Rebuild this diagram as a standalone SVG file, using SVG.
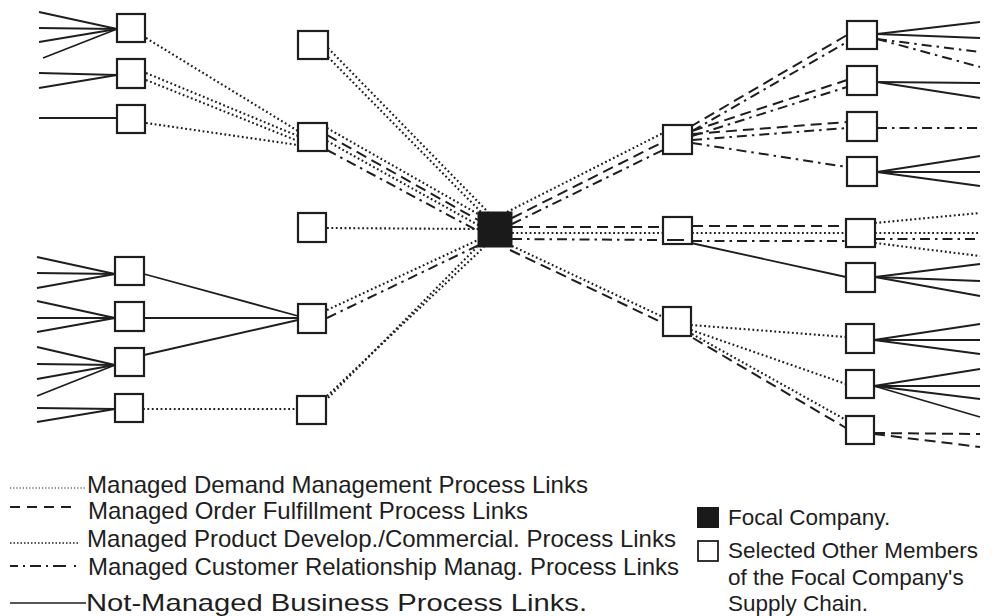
<svg xmlns="http://www.w3.org/2000/svg" width="1001" height="616" viewBox="0 0 1001 616">
<style>
.bg{fill:#fff}
.box{fill:#fff;stroke:#1e1e1e;stroke-width:2.2}
.focal{fill:#1a1a1a;stroke:#1a1a1a;stroke-width:1}
.c line{stroke:#1e1e1e;fill:none;stroke-width:1.8}
.c .dot{stroke-width:2.1;stroke-dasharray:1.8 2.6}
.c .dash{stroke-width:2;stroke-dasharray:11 6}
.c .dd{stroke-width:2;stroke-dasharray:10 5 2.5 5}
text{font-family:"Liberation Sans",Arial,sans-serif;fill:#1e1e1e}
.lg{font-size:24px}
.rl{font-size:22.5px}
</style>
<defs>
<marker id="ah" viewBox="0 0 10 10" refX="1" refY="5" markerWidth="5" markerHeight="5" orient="auto-start-reverse">
<path d="M0,0 L10,5 L0,10 z" fill="#1e1e1e"/>
</marker>
</defs>
<rect class="bg" x="0" y="0" width="1001" height="616"/>

<g id="connectors" class="c">
<!-- not-managed solid, left -->
<line x1="39" y1="12" x2="117" y2="29"/>
<line x1="39" y1="28" x2="117" y2="29"/>
<line x1="39" y1="42" x2="117" y2="29"/>
<line x1="43" y1="58" x2="117" y2="29"/>
<line x1="39" y1="73" x2="117" y2="75"/>
<line x1="39" y1="88" x2="117" y2="75"/>
<line x1="39" y1="118" x2="117" y2="118"/>
<line x1="37" y1="257" x2="115" y2="274"/>
<line x1="37" y1="273" x2="115" y2="274"/>
<line x1="37" y1="288" x2="115" y2="274"/>
<line x1="37" y1="301" x2="115" y2="318"/>
<line x1="37" y1="318" x2="115" y2="318"/>
<line x1="37" y1="332" x2="115" y2="318"/>
<line x1="37" y1="347" x2="115" y2="365"/>
<line x1="37" y1="364" x2="115" y2="365"/>
<line x1="37" y1="379" x2="115" y2="365"/>
<line x1="37" y1="396" x2="115" y2="365"/>
<line x1="37" y1="408" x2="115" y2="409"/>
<line x1="37" y1="422" x2="115" y2="409"/>
<line x1="144" y1="274" x2="298" y2="316"/>
<line x1="144" y1="318" x2="298" y2="318"/>
<line x1="144" y1="355" x2="298" y2="320"/>
<!-- not-managed solid, right -->
<line x1="691" y1="243" x2="846" y2="277"/>
<line x1="877" y1="34" x2="980" y2="22"/>
<line x1="877" y1="34" x2="980" y2="38"/>
<line x1="877" y1="82" x2="980" y2="83"/>
<line x1="877" y1="82" x2="980" y2="98"/>
<line x1="877" y1="172" x2="980" y2="156"/>
<line x1="877" y1="172" x2="980" y2="172"/>
<line x1="877" y1="172" x2="980" y2="186"/>
<line x1="875" y1="277" x2="980" y2="264"/>
<line x1="875" y1="277" x2="980" y2="281"/>
<line x1="875" y1="277" x2="980" y2="296"/>
<line x1="874" y1="340" x2="980" y2="324"/>
<line x1="874" y1="340" x2="980" y2="340"/>
<line x1="874" y1="340" x2="980" y2="354"/>
<line x1="874" y1="386" x2="980" y2="369"/>
<line x1="874" y1="386" x2="980" y2="386"/>
<line x1="874" y1="386" x2="980" y2="399"/>
<line x1="874" y1="386" x2="980" y2="417"/>

<!-- dotted, left -->
<line class="dot" x1="146" y1="38" x2="298" y2="131"/>
<line class="dot" x1="146" y1="73" x2="298" y2="136"/>
<line class="dot" x1="146" y1="80" x2="298" y2="141"/>
<line class="dot" x1="146" y1="123" x2="298" y2="145"/>
<line class="dot" x1="143" y1="409" x2="297" y2="409"/>
<!-- to focal -->
<line class="dot" x1="328" y1="48" x2="488" y2="212"/>
<line class="dot" x1="328" y1="57" x2="481" y2="212"/>
<line class="dot" x1="327" y1="128" x2="478" y2="214"/>
<line class="dash" x1="327" y1="135" x2="478" y2="220"/>
<line class="dot" x1="327" y1="141" x2="478" y2="225"/>
<line class="dd" x1="327" y1="150" x2="478" y2="231"/>
<line class="dot" x1="327" y1="228" x2="478" y2="229"/>
<line class="dot" x1="327" y1="310" x2="478" y2="240"/>
<line class="dd" x1="327" y1="318" x2="479" y2="245"/>
<line class="dot" x1="325" y1="401" x2="477" y2="247"/>
<line class="dot" x1="327" y1="396" x2="484" y2="247"/>
<!-- focal to right -->
<line class="dot" x1="507" y1="212" x2="663" y2="133"/>
<line class="dash" x1="512" y1="218" x2="663" y2="142"/>
<line class="dd" x1="512" y1="224" x2="663" y2="150"/>
<line class="dash" x1="512" y1="227" x2="663" y2="227"/>
<line class="dot" x1="512" y1="233" x2="663" y2="233"/>
<line class="dd" x1="512" y1="239" x2="663" y2="240"/>
<line class="dot" x1="512" y1="246" x2="663" y2="317"/>
<line class="dash" x1="510" y1="250" x2="663" y2="323"/>
<!-- R1 to outer -->
<line class="dash" x1="690" y1="127" x2="847" y2="35"/>
<line class="dd" x1="692" y1="131" x2="847" y2="42"/>
<line class="dash" x1="692" y1="131" x2="847" y2="80"/>
<line class="dd" x1="692" y1="136" x2="847" y2="87"/>
<line class="dash" x1="692" y1="134" x2="847" y2="122"/>
<line class="dd" x1="692" y1="140" x2="847" y2="128"/>
<line class="dd" x1="692" y1="143" x2="847" y2="167"/>
<!-- R2 to RO5 -->
<line class="dash" x1="692" y1="226" x2="846" y2="226"/>
<line class="dot" x1="692" y1="233" x2="846" y2="233"/>
<line class="dd" x1="692" y1="241" x2="846" y2="241"/>
<!-- R3 to outer -->
<line class="dot" x1="691" y1="325" x2="846" y2="337"/>
<line class="dot" x1="691" y1="330" x2="846" y2="384"/>
<line class="dot" x1="692" y1="334" x2="846" y2="420"/>
<line class="dash" x1="693" y1="338" x2="846" y2="428"/>
<!-- outer right managed -->
<line class="dd" x1="877" y1="39" x2="980" y2="52" marker-start="url(#ah)"/>
<line class="dd" x1="877" y1="39" x2="980" y2="67"/>
<line class="dd" x1="877" y1="128" x2="980" y2="128"/>
<line class="dot" x1="875" y1="223" x2="980" y2="213"/>
<line class="dot" x1="875" y1="233" x2="980" y2="233"/>
<line class="dd" x1="875" y1="239" x2="980" y2="239"/>
<line class="dot" x1="875" y1="243" x2="980" y2="256"/>
<line class="dash" x1="874" y1="433" x2="980" y2="434"/>
<line class="dash" x1="874" y1="434" x2="980" y2="447"/>
</g>

<g id="A1"><rect class="box" x="117" y="14" width="28" height="28"/></g>
<g id="A2"><rect class="box" x="117" y="59" width="28" height="29"/></g>
<g id="A3"><rect class="box" x="117" y="105" width="28" height="28"/></g>
<g id="B1"><rect class="box" x="115" y="257" width="29" height="28"/></g>
<g id="B2"><rect class="box" x="115" y="302" width="29" height="29"/></g>
<g id="B3"><rect class="box" x="115" y="348" width="29" height="28"/></g>
<g id="B4"><rect class="box" x="115" y="394" width="28" height="28"/></g>
<g id="M1"><rect class="box" x="298" y="31" width="30" height="28"/></g>
<g id="M2"><rect class="box" x="298" y="123" width="29" height="28"/></g>
<g id="M3"><rect class="box" x="298" y="213" width="28" height="29"/></g>
<g id="M4"><rect class="box" x="298" y="304" width="28" height="29"/></g>
<g id="M5"><rect class="box" x="297" y="396" width="29" height="28"/></g>
<g id="focal"><rect class="focal" x="478" y="212" width="34" height="35"/></g>
<g id="R1"><rect class="box" x="663" y="125" width="29" height="29"/></g>
<g id="R2"><rect class="box" x="663" y="217" width="29" height="27"/><line x1="667" y1="240" x2="684" y2="240" stroke="#1e1e1e" stroke-width="2"/></g>
<g id="R3"><rect class="box" x="663" y="307" width="28" height="29"/></g>
<g id="RO1"><rect class="box" x="847" y="21" width="30" height="28"/></g>
<g id="RO2"><rect class="box" x="847" y="66" width="30" height="29"/></g>
<g id="RO3"><rect class="box" x="847" y="112" width="30" height="29"/></g>
<g id="RO4"><rect class="box" x="847" y="157" width="30" height="29"/></g>
<g id="RO5"><rect class="box" x="846" y="219" width="29" height="28"/></g>
<g id="RO6"><rect class="box" x="846" y="263" width="29" height="29"/></g>
<g id="RO7"><rect class="box" x="846" y="324" width="28" height="29"/></g>
<g id="RO8"><rect class="box" x="846" y="370" width="28" height="28"/></g>
<g id="RO9"><rect class="box" x="846" y="416" width="28" height="28"/></g>

<g id="legend">
<line x1="10" y1="488" x2="86" y2="488" stroke="#1e1e1e" stroke-width="1.2" stroke-dasharray="1.2 2"/>
<text class="lg" x="87" y="493" textLength="501" lengthAdjust="spacingAndGlyphs">Managed Demand Management Process Links</text>
<line x1="10" y1="507" x2="73" y2="507" stroke="#1e1e1e" stroke-width="2" stroke-dasharray="10 7"/>
<text class="lg" x="88" y="519" textLength="440" lengthAdjust="spacingAndGlyphs">Managed Order Fulfillment Process Links</text>
<line x1="10" y1="543" x2="80" y2="543" stroke="#1e1e1e" stroke-width="1.6" stroke-dasharray="1.5 2"/>
<text class="lg" x="87" y="547" textLength="589" lengthAdjust="spacingAndGlyphs">Managed Product Develop./Commercial. Process Links</text>
<line x1="10" y1="566" x2="76" y2="566" stroke="#1e1e1e" stroke-width="2" stroke-dasharray="8 5 2 5 11 5 2 5 13"/>
<text class="lg" x="88" y="575" textLength="591" lengthAdjust="spacingAndGlyphs">Managed Customer Relationship Manag. Process Links</text>
<line x1="10" y1="603" x2="86" y2="603" stroke="#1e1e1e" stroke-width="1.6"/>
<text class="lg" x="86" y="611" textLength="501" lengthAdjust="spacingAndGlyphs">Not-Managed Business Process Links.</text>

<rect x="697" y="507" width="22" height="21" fill="#1a1a1a"/>
<text class="rl" x="728" y="525">Focal Company.</text>
<rect x="698" y="541" width="20" height="20" fill="#fff" stroke="#1e1e1e" stroke-width="1.8"/>
<text class="rl" x="728" y="558">Selected Other Members</text>
<text class="rl" x="728" y="585">of the Focal Company's</text>
<text class="rl" x="728" y="611">Supply Chain.</text>
</g>
</svg>
